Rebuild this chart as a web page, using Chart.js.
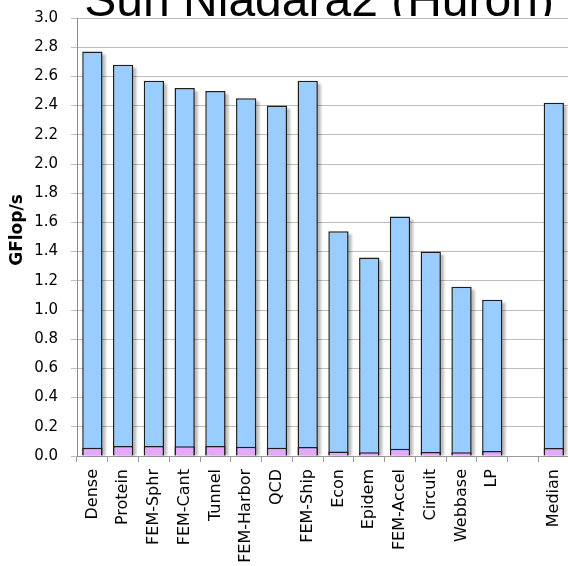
<!DOCTYPE html>
<html>
<head>
<meta charset="utf-8">
<script src="https://cdn.jsdelivr.net/npm/chart.js@4/dist/chart.umd.min.js"></script>
<style>
  html, body { margin: 0; padding: 0; overflow: hidden; background: #fff; }
  #wrap { position: absolute; left: 0; top: -4px; width: 580px; height: 570px; }
</style>
</head>
<body>
<div id="wrap"><canvas id="c" width="580" height="570"></canvas></div>
<script>
// Sparse matrix-vector multiply performance per matrix
const categories = ['Dense', 'Protein', 'FEM-Sphr', 'FEM-Cant', 'Tunnel', 'FEM-Harbor', 'QCD',
  'FEM-Ship', 'Econ', 'Epidem', 'FEM-Accel', 'Circuit', 'Webbase', 'LP', '', 'Median'];
const tunedGflops = [2.77, 2.68, 2.57, 2.52, 2.50, 2.45, 2.40, 2.57, 1.54, 1.36, 1.64, 1.40, 1.16, 1.07, null, 2.42];
const naiveGflops = [0.057, 0.068, 0.068, 0.066, 0.068, 0.064, 0.057, 0.062, 0.030, 0.025, 0.050, 0.027, 0.025, 0.035, null, 0.055];
const yTicks = { min: 0, max: 3.0, step: 0.2 };
const yAxisTitle = 'GFlop/s';
const chartTitle = 'Sun Niagara2 (Huron)';

const font = 'DejaVu Sans';

// soft drop shadow behind the tall bars
const barShade = {
  id: 'barShade',
  beforeDatasetsDraw(chart) {
    const ctx = chart.ctx;
    const values = chart.data.datasets[1].data;
    const meta = chart.getDatasetMeta(1);
    ctx.save();
    ctx.fillStyle = 'rgba(0,0,0,0.26)';
    ctx.filter = 'blur(1px)';
    meta.data.forEach((el, i) => {
      if (values[i] == null) return;
      const p = el.getProps(['x', 'y', 'base', 'width'], true);
      ctx.fillRect(p.x - p.width / 2 + 3, p.y + 3, p.width, p.base - p.y - 3);
    });
    ctx.restore();
  }
};

// large heading sitting on the top edge of the plot; the plot panel hides its lower part
const headline = {
  id: 'headline',
  beforeDraw(chart) {
    const ctx = chart.ctx;
    const area = chart.chartArea;
    const baseY = area.top - 2;
    ctx.save();
    ctx.beginPath();
    ctx.rect(0, 0, chart.width, baseY);
    ctx.clip();
    ctx.font = '48px "Liberation Sans"';
    ctx.fillStyle = '#000';
    ctx.textAlign = 'center';
    ctx.textBaseline = 'alphabetic';
    ctx.fillText(chartTitle, (area.left + area.right) / 2 - 4, baseY);
    ctx.restore();
  }
};

// rotated value-axis title, set a little above the middle of the plot
const axisTitle = {
  id: 'axisTitle',
  afterDraw(chart) {
    const ctx = chart.ctx;
    const area = chart.chartArea;
    ctx.save();
    ctx.translate(17.5, (area.top + area.bottom) / 2 - 7);
    ctx.rotate(-Math.PI / 2);
    ctx.font = 'bold 17px "' + font + '"';
    ctx.fillStyle = '#000';
    ctx.textAlign = 'center';
    ctx.textBaseline = 'middle';
    ctx.fillText(yAxisTitle, 0, 0);
    ctx.restore();
  }
};

new Chart(document.getElementById('c'), {
  type: 'bar',
  data: {
    labels: categories,
    datasets: [
      {
        label: 'Naive',
        data: naiveGflops,
        backgroundColor: '#E5A8FA',
        borderColor: '#1e1e1e',
        borderWidth: 1.5,
        grouped: false,
        order: 1,
        barPercentage: 0.66,
        categoryPercentage: 1
      },
      {
        label: 'Tuned',
        data: tunedGflops,
        backgroundColor: '#99CCFF',
        borderColor: '#1e1e1e',
        borderWidth: 1.5,
        grouped: false,
        order: 2,
        barPercentage: 0.66,
        categoryPercentage: 1
      }
    ]
  },
  options: {
    responsive: false,
    devicePixelRatio: 1,
    animation: false,
    layout: { padding: { top: 13, left: 0, right: 0, bottom: 0 } },
    plugins: {
      legend: { display: false },
      tooltip: { enabled: false },
      title: { display: false }
    },
    scales: {
      x: {
        offset: true,
        grid: { display: true, drawOnChartArea: false, offset: true, tickLength: 6, color: '#9a9a9a' },
        border: { color: '#9a9a9a' },
        ticks: {
          autoSkip: false, maxRotation: 90, minRotation: 90, padding: 7,
          color: '#000', font: { family: font, size: 16 }
        },
        afterFit(s) { s.height = 110; }
      },
      y: {
        min: yTicks.min,
        max: yTicks.max,
        grid: { color: '#bdbdbd', tickLength: 6 },
        border: { color: '#8a8a8a' },
        ticks: {
          stepSize: yTicks.step, padding: 13, color: '#000',
          font: { family: font, size: 15 },
          callback: v => Number(v).toFixed(1)
        },
        title: { display: false },
        afterFit(s) { s.width = 77; }
      }
    }
  },
  plugins: [barShade, headline, axisTitle]
});
</script>
</body>
</html>
